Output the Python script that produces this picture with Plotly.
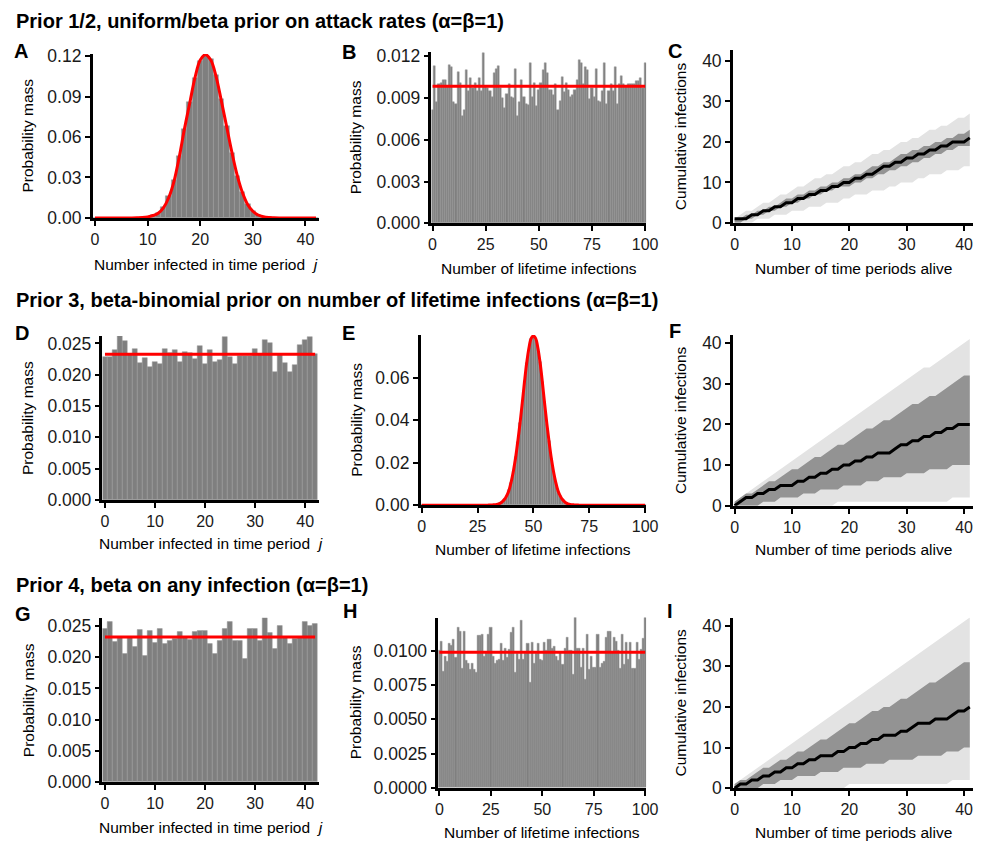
import plotly.graph_objects as go

W, H = 999, 852

# ---------------- DATA ----------------
# Panel A: number infected in time period j (0..42)
A_x = list(range(43))
A_bars = [0, 0, 0, 0, 0, 0, 0, 0, 0, 0.0003,
          0.001, 0.002, 0.004, 0.008, 0.016, 0.028, 0.046, 0.066, 0.086, 0.104,
          0.116, 0.120, 0.118, 0.106, 0.088, 0.068, 0.048, 0.031, 0.019, 0.010,
          0.005, 0.002, 0.001, 0.0004, 0, 0, 0, 0, 0, 0,
          0, 0, 0]
A_curve = [0, 0, 0, 0, 0, 0, 0, 0, 0.0001, 0.0003,
           0.0008, 0.0018, 0.0035, 0.0075, 0.015, 0.027, 0.045, 0.066, 0.085, 0.104,
           0.117, 0.121, 0.117, 0.105, 0.087, 0.068, 0.049, 0.032, 0.019, 0.010,
           0.005, 0.0022, 0.0009, 0.0003, 0.0001, 0, 0, 0, 0, 0,
           0, 0, 0]

# Panel B: number of lifetime infections (0..100)
B_bars = [0.0081, 0.0113, 0.0087, 0.0100, 0.0101, 0.0103, 0.0103, 0.0098, 0.0114, 0.0112,
          0.0087, 0.0086, 0.0109, 0.0101, 0.0077, 0.0081, 0.0110, 0.0095, 0.0104, 0.0097,
          0.0101, 0.0095, 0.0104, 0.0095, 0.0122, 0.0098, 0.0097, 0.0095, 0.0091, 0.0108,
          0.0111, 0.0113, 0.0097, 0.0090, 0.0083, 0.0093, 0.0100, 0.0091, 0.0090, 0.0111,
          0.0077, 0.0087, 0.0103, 0.0091, 0.0086, 0.0085, 0.0115, 0.0091, 0.0101, 0.0084,
          0.0096, 0.0101, 0.0110, 0.0115, 0.0108, 0.0096, 0.0096, 0.0092, 0.0100, 0.0081,
          0.0088, 0.0105, 0.0094, 0.0101, 0.0096, 0.0091, 0.0092, 0.0096, 0.0103, 0.0117,
          0.0115, 0.0100, 0.0112, 0.0110, 0.0089, 0.0097, 0.0091, 0.0111, 0.0088, 0.0087,
          0.0095, 0.0115, 0.0086, 0.0095, 0.0100, 0.0095, 0.0112, 0.0086, 0.0100, 0.0106,
          0.0100, 0.0098, 0.0100, 0.0100, 0.0100, 0.0100, 0.0102, 0.0102, 0.0104, 0.0097,
          0.0115]
B_level = 0.00985

# Panel C: cumulative infections vs time periods alive (0..41)
T_x = list(range(42))
C_med = [1, 1, 1, 2, 2, 3, 3, 4, 4, 5, 5, 6, 6, 7, 7, 8, 8, 9, 9, 10, 10,
         11, 11, 12, 12, 13, 14, 14, 15, 15, 16, 16, 17, 17, 18, 18, 19, 19, 20, 20, 20, 21]
C_dark_lo = [0, 0, 1, 1, 2, 2, 3, 3, 4, 4, 5, 5, 6, 6, 7, 7, 8, 8, 9, 9, 9,
             10, 10, 11, 11, 12, 12, 13, 13, 14, 14, 15, 15, 16, 16, 17, 17, 18, 18, 19, 19, 19]
C_dark_hi = [1, 1, 2, 2, 3, 3, 4, 4, 5, 6, 6, 7, 7, 8, 8, 9, 9, 10, 10, 11, 11,
             12, 12, 13, 14, 14, 15, 15, 16, 17, 17, 18, 18, 19, 19, 20, 20, 21, 21, 22, 22, 23]
C_light_lo = [0, 0, 0, 0, 1, 1, 1, 2, 2, 2, 3, 3, 3, 4, 4, 4, 5, 5, 5, 6, 6,
              7, 7, 7, 8, 8, 8, 9, 9, 10, 10, 10, 11, 11, 12, 12, 12, 13, 13, 13, 14, 14]
C_light_hi = [1, 2, 3, 3, 4, 5, 5, 6, 7, 7, 8, 9, 9, 10, 11, 11, 12, 12, 13, 14, 14,
              15, 15, 16, 17, 17, 18, 18, 19, 20, 20, 21, 21, 22, 23, 23, 24, 24, 25, 26, 26, 27]

# Panel D: number infected in time period j (0..42)
D_bars = [0.0229, 0.0228, 0.0239, 0.0262, 0.0254, 0.0233, 0.0241, 0.0219, 0.0227, 0.0213,
          0.0221, 0.0217, 0.0242, 0.0235, 0.0239, 0.0221, 0.0236, 0.0235, 0.0225, 0.0246,
          0.0218, 0.0239, 0.0220, 0.0223, 0.0260, 0.0229, 0.0218, 0.0230, 0.0230, 0.0230,
          0.0241, 0.0232, 0.0256, 0.0251, 0.0204, 0.0232, 0.0219, 0.0204, 0.0216, 0.0248,
          0.0256, 0.0260, 0.0233]
D_level = 0.02326

# Panel E: number of lifetime infections (0..100)
E_x = list(range(101))
E_bars = [0] * 33 + [0.0003, 0.0005, 0.0009, 0.0017, 0.0028, 0.0046, 0.0070, 0.0105, 0.0160, 0.0225,
                     0.0298, 0.0388, 0.0478, 0.0583, 0.0668, 0.0705, 0.0782, 0.0790, 0.0778, 0.0745,
                     0.0672, 0.0578, 0.0486, 0.0382, 0.0302, 0.0220, 0.0157, 0.0110, 0.0069, 0.0045,
                     0.0026, 0.0016, 0.0009, 0.0005, 0.0003] + [0] * 33
E_curve = [0] * 30 + [0.0001, 0.0001, 0.0002, 0.0003, 0.0005, 0.0009, 0.0016, 0.0027, 0.0044, 0.0068,
                      0.0108, 0.0159, 0.0222, 0.0300, 0.0385, 0.0480, 0.0580, 0.0670, 0.0740, 0.0785,
                      0.0796, 0.0785, 0.0740, 0.0670, 0.0580, 0.0480, 0.0385, 0.0300, 0.0222, 0.0159,
                      0.0108, 0.0068, 0.0044, 0.0027, 0.0016, 0.0009, 0.0005, 0.0003, 0.0002, 0.0001,
                      0.0001] + [0] * 30

# Panel F
F_med = [0, 1, 2, 2, 3, 3, 4, 4, 5, 5, 5, 6, 6, 7, 7, 8, 8, 9, 9, 10, 10,
         11, 11, 12, 12, 13, 13, 13, 14, 15, 15, 16, 16, 17, 17, 18, 18, 19, 19, 20, 20, 20]
F_dark_lo = [0, 0, 0, 0, 0, 1, 1, 1, 2, 2, 2, 2, 3, 3, 3, 4, 4, 4, 4, 5, 5,
             5, 5, 6, 6, 6, 7, 7, 7, 7, 8, 8, 8, 8, 9, 9, 9, 9, 10, 10, 10, 10]
F_dark_hi = [1, 2, 3, 3, 4, 5, 6, 6, 7, 8, 9, 9, 10, 11, 12, 12, 13, 14, 15, 15, 16,
             17, 18, 19, 19, 20, 21, 21, 22, 23, 24, 25, 25, 26, 27, 27, 28, 29, 30, 31, 32, 32]
F_light_lo = [0, 0, 0, 0, 0, 0, 0, 0, 0, 0, 0, 0, 0, 0, 0, 0, 0, 0, 1, 1, 1,
              1, 1, 1, 1, 1, 1, 1, 1, 1, 1, 1, 1, 1, 1, 1, 1, 1, 2, 2, 2, 2]
F_light_hi = [1, 2, 3, 4, 5, 6, 7, 8, 9, 10, 11, 12, 13, 14, 15, 16, 17, 18, 19, 20, 21,
              22, 23, 24, 25, 26, 27, 28, 29, 30, 31, 32, 33, 34, 34, 35, 36, 37, 38, 39, 40, 41]

# Panel G
G_bars = [0.0245, 0.0256, 0.0224, 0.0231, 0.0205, 0.0231, 0.0216, 0.0244, 0.0203, 0.0242,
          0.0223, 0.0245, 0.0221, 0.0226, 0.0230, 0.0241, 0.0233, 0.0228, 0.0241, 0.0243,
          0.0242, 0.0222, 0.0205, 0.0227, 0.0246, 0.0257, 0.0226, 0.0226, 0.0198, 0.0246,
          0.0245, 0.0226, 0.0263, 0.0239, 0.0214, 0.0250, 0.0233, 0.0221, 0.0229, 0.0231,
          0.0257, 0.0250, 0.0253]
G_level = 0.02325

# Panel H
H_bars = [0.0100, 0.0107, 0.0085, 0.0096, 0.0092, 0.0105, 0.0104, 0.0108, 0.0095, 0.0117,
          0.0114, 0.0087, 0.0114, 0.0093, 0.0091, 0.0086, 0.0091, 0.0086, 0.0084, 0.0111,
          0.0111, 0.0112, 0.0096, 0.0099, 0.0112, 0.0117, 0.0096, 0.0091, 0.0093, 0.0094,
          0.0105, 0.0093, 0.0102, 0.0095, 0.0101, 0.0113, 0.0117, 0.0084, 0.0098, 0.0094,
          0.0122, 0.0094, 0.0098, 0.0105, 0.0077, 0.0106, 0.0091, 0.0098, 0.0105, 0.0094,
          0.0093, 0.0106, 0.0100, 0.0108, 0.0108, 0.0102, 0.0103, 0.0096, 0.0093, 0.0099,
          0.0090, 0.0102, 0.0110, 0.0100, 0.0100, 0.0083, 0.0125, 0.0102, 0.0102, 0.0088,
          0.0102, 0.0079, 0.0112, 0.0086, 0.0096, 0.0088, 0.0088, 0.0112, 0.0088, 0.0091,
          0.0092, 0.0110, 0.0114, 0.0114, 0.0099, 0.0110, 0.0107, 0.0100, 0.0087, 0.0112,
          0.0090, 0.0106, 0.0094, 0.0106, 0.0087, 0.0087, 0.0106, 0.0094, 0.0101, 0.0109,
          0.0124]
H_level = 0.0099

# Panel I
I_med = [0, 1, 1, 2, 2, 3, 3, 4, 4, 5, 5, 6, 6, 7, 7, 8, 8, 8, 9, 9, 10,
         10, 11, 11, 12, 12, 13, 13, 13, 14, 14, 15, 16, 16, 16, 17, 17, 17, 18, 19, 19, 20]
I_dark_lo = [0, 0, 0, 0, 0, 1, 1, 1, 2, 2, 2, 3, 3, 3, 3, 4, 4, 4, 4, 5, 5,
             5, 5, 6, 6, 6, 6, 7, 7, 7, 7, 7, 8, 8, 8, 8, 8, 9, 9, 9, 10, 10]
I_dark_hi = [1, 2, 2, 3, 4, 5, 5, 6, 7, 7, 8, 9, 9, 10, 11, 12, 12, 13, 14, 15, 16,
             16, 17, 18, 19, 19, 20, 20, 21, 22, 22, 23, 24, 25, 26, 26, 27, 28, 29, 30, 31, 31]
I_light_lo = [0, 0, 0, 0, 0, 0, 0, 0, 0, 0, 0, 0, 0, 0, 0, 0, 0, 0, 0, 0, 1,
              1, 1, 1, 1, 1, 1, 1, 1, 1, 1, 1, 1, 1, 1, 1, 1, 1, 2, 2, 2, 2]
I_light_hi = [1, 2, 3, 4, 5, 6, 7, 8, 9, 10, 11, 12, 13, 14, 15, 16, 17, 18, 19, 20, 21,
              22, 23, 24, 25, 26, 27, 28, 29, 30, 31, 32, 33, 34, 35, 36, 37, 38, 39, 40, 41, 42]

ROW_TITLES = ["Prior 1/2, uniform/beta prior on attack rates (\u03b1=\u03b2=1)",
              "Prior 3, beta-binomial prior on number of lifetime infections (\u03b1=\u03b2=1)",
              "Prior 4, beta on any infection (\u03b1=\u03b2=1)"]
XT_J = "Number infected in time period  <i>j</i>"
XT_L = "Number of lifetime infections"
XT_T = "Number of time periods alive"
YT_P = "Probability mass"
YT_C = "Cumulative infections"

# ---------------- STYLE / LAYOUT ----------------
FONT = "Liberation Sans, Arial, Helvetica, sans-serif"
BAR_C = "#7f7f7f"
BAR_EDGE = "#9a9a9a"
RED = "#ff0000"
LIGHT = "#e3e3e3"
DARK = "#939393"

fig = go.Figure()


def xd(a, b):
    return [a / W, b / W]


def yd(top, bottom):
    return [1 - bottom / H, 1 - top / H]


# panel: (x px domain, y px domain, xrange, yrange, xticks, ytickvals, yfmt)
panels = [
    ((91, 321), (47, 214.5), [-0.45, 42.6], [0, 0.1215], [0, 10, 20, 30, 40], [0, 0.03, 0.06, 0.09, 0.12], ".2f"),
    ((435, 653), (45, 220), [-0.5, 100.5], [0, 0.0123], [0, 25, 50, 75, 100], [0, 0.003, 0.006, 0.009, 0.012], ".3f"),
    ((741, 985), (43, 219.5), [-0.3, 41.6], [0, 42.7], [0, 10, 20, 30, 40], [0, 10, 20, 30, 40], "d"),
    ((101, 320.7), (335, 502.5), [-0.5, 42.75], [0, 0.0262], [0, 10, 20, 30, 40], [0, 0.005, 0.01, 0.015, 0.02, 0.025], ".3f"),
    ((424, 653), (334, 508), [-0.5, 100.5], [0, 0.0801], [0, 25, 50, 75, 100], [0, 0.02, 0.04, 0.06], ".2f"),
    ((741, 985), (334, 508.5), [-0.3, 41.6], [0, 42], [0, 10, 20, 30, 40], [0, 10, 20, 30, 40], "d"),
    ((101, 320.7), (623, 791), [-0.5, 42.75], [0, 0.0263], [0, 10, 20, 30, 40], [0, 0.005, 0.01, 0.015, 0.02, 0.025], ".3f"),
    ((442, 653), (622.7, 796.7), [-0.5, 100.5], [0, 0.01243], [0, 25, 50, 75, 100], [0, 0.0025, 0.005, 0.0075, 0.01], ".4f"),
    ((741, 985), (622.7, 797), [-0.3, 41.6], [0, 42], [0, 10, 20, 30, 40], [0, 10, 20, 30, 40], "d"),
]

layout_axes = {}
for i, (xp, yp, xr, yr, xt, yt, yf) in enumerate(panels):
    n = "" if i == 0 else str(i + 1)
    common = dict(showline=True, linewidth=2.5, linecolor="black", ticks="outside",
                  ticklen=5, tickwidth=2, tickcolor="black", showgrid=False, zeroline=False,
                  fixedrange=True, ticklabelstandoff=0)
    layout_axes["xaxis" + n] = dict(domain=xd(*xp), range=xr, tickvals=xt, anchor="y" + n,
                                    tickfont=dict(family=FONT, size=16, color="#1a1a1a"), **common)
    layout_axes["yaxis" + n] = dict(domain=yd(*yp), range=yr, tickvals=yt, tickformat=yf, anchor="x" + n,
                                    tickfont=dict(family=FONT, size=17.5, color="#1a1a1a"), **common)


def ref(i):
    n = "" if i == 0 else str(i + 1)
    return "x" + n, "y" + n


def add_bars(i, x, y):
    xa, ya = ref(i)
    fig.add_trace(go.Bar(x=x, y=y, xaxis=xa, yaxis=ya, marker=dict(color=BAR_C,
                         line=dict(color=BAR_EDGE, width=0.5)),
                         showlegend=False, hoverinfo="x+y"))


def add_red(i, x, y, spline=False):
    xa, ya = ref(i)
    fig.add_trace(go.Scatter(x=x, y=y, xaxis=xa, yaxis=ya, mode="lines",
                             line=dict(color=RED, width=3, shape="spline" if spline else "linear"),
                             showlegend=False, hoverinfo="skip"))


def add_bands(i, x, llo, lhi, dlo, dhi, med):
    xa, ya = ref(i)
    for lo, hi, col in ((llo, lhi, LIGHT), (dlo, dhi, DARK)):
        fig.add_trace(go.Scatter(x=x, y=lo, xaxis=xa, yaxis=ya, mode="lines",
                                 line=dict(width=0, color=col), showlegend=False, hoverinfo="skip"))
        fig.add_trace(go.Scatter(x=x, y=hi, xaxis=xa, yaxis=ya, mode="lines", fill="tonexty",
                                 fillcolor=col, line=dict(width=0, color=col),
                                 showlegend=False, hoverinfo="skip"))
    fig.add_trace(go.Scatter(x=x, y=med, xaxis=xa, yaxis=ya, mode="lines",
                             line=dict(color="black", width=3), showlegend=False))


# A
add_bars(0, A_x, A_bars)
add_red(0, A_x, A_curve, spline=True)
# B
B_x = list(range(len(B_bars)))
add_bars(1, B_x, B_bars)
add_red(1, [B_x[0], B_x[-1]], [B_level, B_level])
# C
add_bands(2, T_x, C_light_lo, C_light_hi, C_dark_lo, C_dark_hi, C_med)
# D
D_x = list(range(len(D_bars)))
add_bars(3, D_x, D_bars)
add_red(3, [D_x[0], D_x[-1]], [D_level, D_level])
# E
add_bars(4, E_x, E_bars)
add_red(4, E_x, E_curve, spline=True)
# F
add_bands(5, T_x, F_light_lo, F_light_hi, F_dark_lo, F_dark_hi, F_med)
# G
G_x = list(range(len(G_bars)))
add_bars(6, G_x, G_bars)
add_red(6, [G_x[0], G_x[-1]], [G_level, G_level])
# H
H_x = list(range(len(H_bars)))
add_bars(7, H_x, H_bars)
add_red(7, [H_x[0], H_x[-1]], [H_level, H_level])
# I
add_bands(8, T_x, I_light_lo, I_light_hi, I_dark_lo, I_dark_hi, I_med)

ann = []
# row titles
for t, y in zip(ROW_TITLES, (13, 298, 589)):
    ann.append(dict(text="<b>%s</b>" % t, x=11 / W, y=1 - y / H, xref="paper", yref="paper",
                    xanchor="left", yanchor="middle", showarrow=False,
                    font=dict(family=FONT, size=20, color="black")))
# panel letters
for L, (x, y) in zip("ABCDEFGHI", [(18, 44), (351, 45), (682, 44), (19, 332), (351, 332),
                                    (682, 330), (20, 619), (352, 616), (677, 616)]):
    ann.append(dict(text="<b>%s</b>" % L, x=x / W, y=1 - y / H, xref="paper", yref="paper",
                    xanchor="center", yanchor="middle", showarrow=False,
                    font=dict(family=FONT, size=20, color="black")))
# x titles
for i, (t, y) in enumerate([(XT_J, 262), (XT_L, 266), (XT_T, 266),
                            (XT_J, 547), (XT_L, 553), (XT_T, 553),
                            (XT_J, 837), (XT_L, 842), (XT_T, 842)]):
    xp = panels[i][0]
    ann.append(dict(text=t, x=(xp[0] + xp[1]) / 2 / W, y=1 - y / H, xref="paper", yref="paper",
                    xanchor="center", yanchor="middle", showarrow=False,
                    font=dict(family=FONT, size=15.5, color="black")))
# y titles
for i, (t, x) in enumerate([(YT_P, 25), (YT_P, 358), (YT_C, 688),
                            (YT_P, 25.5), (YT_P, 358), (YT_C, 688),
                            (YT_P, 25.5), (YT_P, 358), (YT_C, 688)]):
    yp = panels[i][1]
    ann.append(dict(text=t, x=x / W, y=1 - (yp[0] + yp[1]) / 2 / H, xref="paper", yref="paper",
                    xanchor="center", yanchor="middle", showarrow=False, textangle=-90,
                    font=dict(family=FONT, size=15.5, color="black")))

fig.update_layout(width=W, height=H, margin=dict(l=0, r=0, t=0, b=0),
                  paper_bgcolor="white", plot_bgcolor="white", bargap=0,
                  annotations=ann, showlegend=False, **layout_axes)

fig.write_html("out.html", config={"displayModeBar": False},
               post_script="document.body.style.margin='0';document.body.style.overflow='hidden';")
